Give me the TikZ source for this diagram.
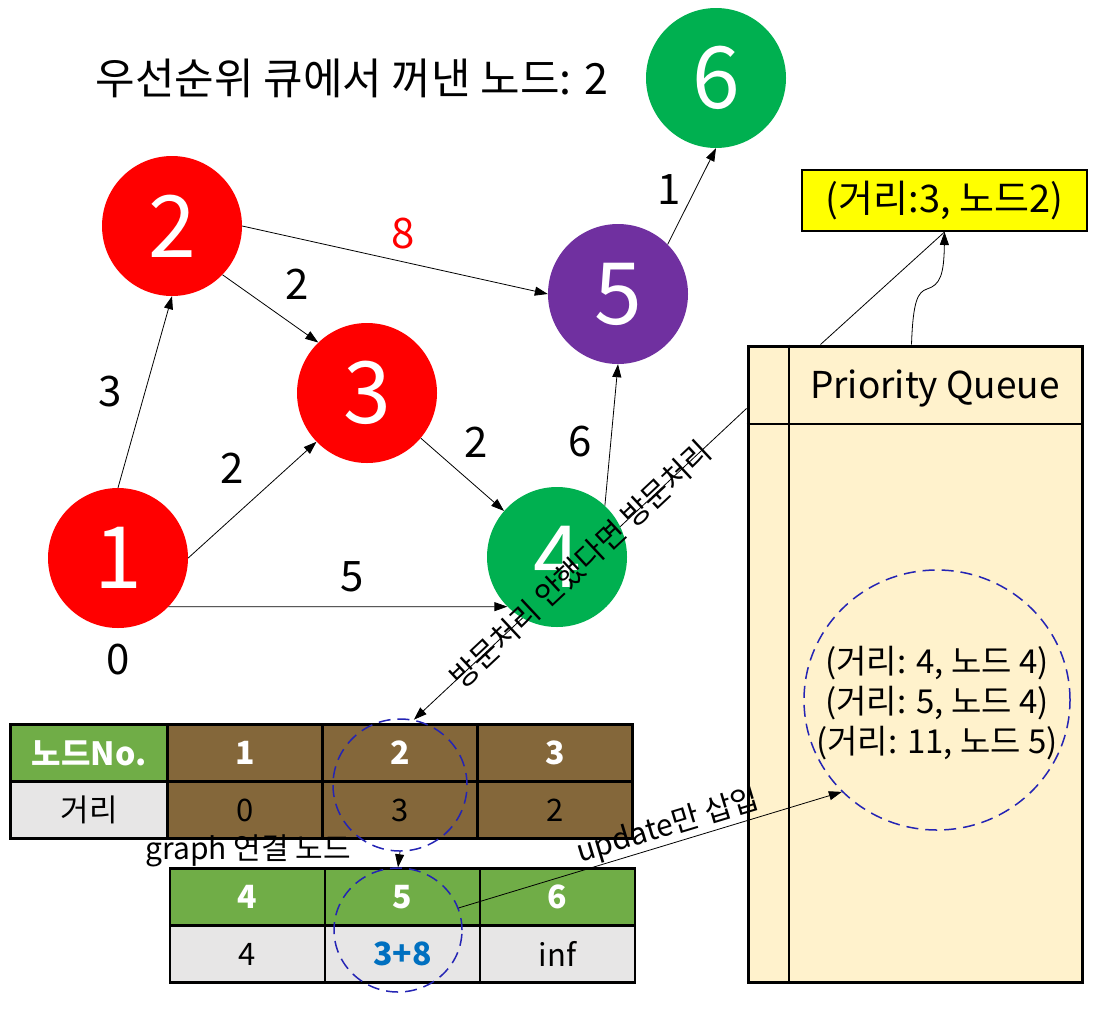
\documentclass[tikz,border=0pt]{standalone}
\usepackage{fontspec}
\setmainfont{Noto Sans CJK KR}
\usetikzlibrary{arrows.meta,positioning,shapes.geometric,calc}
\definecolor{nodered}{HTML}{FF0000}
\definecolor{nodegreen}{HTML}{00B050}
\definecolor{nodepurple}{HTML}{7030A0}
\definecolor{headgreen}{HTML}{70AD47}
\definecolor{cellgrey}{HTML}{E7E6E6}
\definecolor{cellbrown}{HTML}{84673A}
\definecolor{queuefill}{HTML}{FFF2CC}
\definecolor{popfill}{HTML}{FFFF00}
\definecolor{markblue}{HTML}{2424B4}
\definecolor{valblue}{HTML}{0070C0}
\tikzset{
  vertex/.style={
    circle, fill=#1, minimum size=140pt, inner sep=0pt,
    text=white, font=\fontsize{86}{86}\selectfont
  },
  vertex/.default=nodered,
  weight/.style={inner sep=0pt, font=\fontsize{42}{42}\selectfont},
  edgearrow/.style={-{Triangle[length=13pt,width=9pt]}, line width=0.8pt},
  cellbox/.style={
    rectangle, draw=black, line width=2.2pt, minimum width=155pt,
    minimum height=57pt, inner sep=0pt, outer sep=0pt,
    font=\fontsize{31}{31}\selectfont, fill=#1
  },
  cellbox/.default=cellgrey,
  headcell/.style={cellbox=#1, text=white, font=\fontsize{32}{32}\selectfont\bfseries},
  markring/.style={ellipse, draw=markblue, line width=1.5pt, dash pattern=on 12pt off 7pt, inner sep=0pt},
  notetext/.style={inner sep=1pt, font=\fontsize{30}{30}\selectfont}
}

\begin{document}
\begin{tikzpicture}[x=1pt, y=-1pt, node distance=0pt]
\useasboundingbox (0,0) rectangle (1110,1009);

% priority queue box
\node[draw=black, line width=3pt, fill=queuefill, minimum width=334pt, minimum height=636pt] (queue) at (915,664) {};
\draw[line width=2pt] ($(queue.north west)+(42,0)$) -- ($(queue.south west)+(42,0)$);
\draw[line width=2pt] ($(queue.north west)+(0,79)$) -- ($(queue.north east)+(0,79)$);
\node[font=\fontsize{37}{37}\selectfont] (queuetitle) at (935,388) {Priority Queue};
\node[markring, minimum width=266pt, minimum height=260pt] (ring) at (937,700) {};
\node[align=center, font=\fontsize{33}{40}\selectfont] (entries) at (937,703) {(거리: 4, 노드 4)\\(거리: 5, 노드 4)\\(거리: 11, 노드 5)};

% popped item
\node[draw=black, line width=2pt, fill=popfill, minimum width=285pt, minimum height=61pt,
  font=\fontsize{38}{38}\selectfont] (popped) at (944.5,200.5) {(거리:3, 노드2)};
\draw[line width=0.8pt] ($(queue.north west)+(74,0)$) -- (popped.south);
\draw[edgearrow] ($(queue.north west)+(165,0)$) .. controls (913,300) and (918,292) .. (927,289)
  .. controls (940,285) and (944,275) .. (popped.south);

% distance table
\node[headcell=headgreen, minimum width=157pt] (nohead) at (89,753) {노드No.};
\node[headcell=cellbrown, right=of nohead] (h1) {1};
\node[headcell=cellbrown, right=of h1] (h2) {2};
\node[headcell=cellbrown, right=of h2] (h3) {3};
\node[cellbox, minimum width=157pt, below=of nohead] (dhead) {거리};
\node[cellbox=cellbrown, below=of h1] (d1) {0};
\node[cellbox=cellbrown, below=of h2] (d2) {3};
\node[cellbox=cellbrown, below=of h3] (d3) {2};

% linked nodes table
\node[headcell=headgreen] (h4) at (247.5,897) {4};
\node[headcell=headgreen, right=of h4] (h5) {5};
\node[headcell=headgreen, right=of h5] (h6) {6};
\node[cellbox, below=of h4] (d4) {4};
\node[cellbox, below=of h5, text=valblue, font=\fontsize{32}{32}\selectfont\bfseries] (d5) {3+8};
\node[cellbox, below=of h6] (d6) {inf};
\node[font=\fontsize{30}{30}\selectfont, inner sep=0pt] (linknote) at (248,851) {graph 연결 노드};

\node[markring, minimum width=134pt, minimum height=132pt] (ring2) at (400,785) {};
\node[markring, minimum width=128pt, minimum height=124pt] (ring5) at (398,930) {};
\draw[edgearrow] (ring2.south) -- (ring5.north);
\draw[edgearrow] (ring5.20) -- node[sloped, above, pos=0.56, notetext] (updnote) {update만 삽입} (ring.224);

% connector behind node 4
\coordinate (qin) at ($(queue.north west)+(0,64)$);
\draw[edgearrow] (qin) -- (ring2.78);

% graph
\node[font=\fontsize{43}{43}\selectfont] (title) at (352,78) {우선순위 큐에서 꺼낸 노드: 2};
\node[vertex] (n1) at (118,558) {1};
\node[vertex] (n2) at (172,226) {2};
\node[vertex] (n3) at (367,393) {3};
\node[vertex=nodegreen] (n4) at (557,557) {4};
\node[vertex=nodepurple] (n5) at (618,294) {5};
\node[vertex=nodegreen] (n6) at (716,78) {6};

\draw[edgearrow] (n1.north) -- (n2.south);
\draw[edgearrow] (n1.east) -- (n3.224);
\draw[edgearrow] (n1.-44) -- (n4.225);
\draw[edgearrow] (n2.-44) -- (n3.134);
\draw[edgearrow] (n2.east) -- (n5.west);
\draw[edgearrow] (n3.-40) -- (n4.139);
\draw[edgearrow] (n4.47) -- (n5.south);
\draw[edgearrow] (n5.45) -- (n6.south);

\node[weight] (w12) at (110,392) {3};
\node[weight] (w13) at (232,468) {2};
\node[weight] (w14) at (352,577) {5};
\node[weight] (w23) at (297,284) {2};
\node[weight, text=nodered] (w25) at (403,234) {8};
\node[weight] (w34) at (476,442) {2};
\node[weight] (w45) at (580,442) {6};
\node[weight] (w56) at (669,190) {1};
\node[weight] (w1) at (118,660) {0};

\path (qin) -- node[sloped, notetext] (visitnote) {방문처리 안했다면 방문처리} (ring2.78);
\end{tikzpicture}
\end{document}
